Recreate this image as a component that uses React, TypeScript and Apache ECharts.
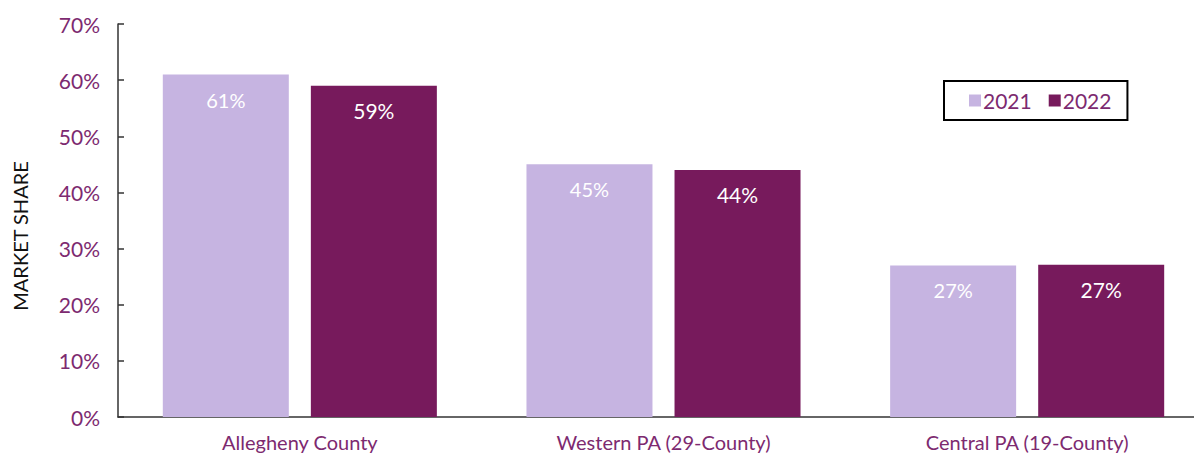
import React, { useEffect, useRef } from "react";
import * as echarts from "echarts";

const categories = ["Allegheny County", "Western PA (29-County)", "Central PA (19-County)"];
const values2021 = [61, 45, 27];
const values2022 = [59, 44, 27.1];
const yTicks = [0, 10, 20, 30, 40, 50, 60, 70];

const LIGHT = "#c6b4e1";
const DARK = "#771a5c";
const TEXT_PURPLE = "#7d2a70";
const FONT = "Lato, 'Open Sans', sans-serif";

export default function App() {
  const ref = useRef<HTMLDivElement>(null);
  useEffect(() => {
    if (!ref.current) return;
    const chart = echarts.init(ref.current, undefined, { renderer: "svg" });
    const label = {
      show: true,
      position: "insideTop",
      distance: 15,
      color: "#ffffff",
      fontFamily: FONT,
      fontSize: 20,
      formatter: (p: any) => Math.round(p.value) + "%",
    };
    chart.setOption({
      animation: false,
      grid: { left: 118, top: 24, bottom: 37, right: 0 },
      legend: {
        left: 944,
        top: 81,
        borderColor: "#000",
        borderWidth: 2,
        padding: [9, 16, 9, 25],
        itemWidth: 12,
        itemHeight: 12,
        itemGap: 17,
        icon: "rect",
        textStyle: { color: TEXT_PURPLE, fontFamily: FONT, fontSize: 21, padding: [0, 0, 0, -3] },
        data: ["2021", "2022"],
      },
      graphic: [
        {
          type: "text",
          x: 10,
          y: 236,
          rotation: Math.PI / 2,
          style: {
            text: "MARKET SHARE",
            fill: "#111",
            font: `20px ${FONT}`,
            textAlign: "center",
            textVerticalAlign: "top",
          },
        },
      ],
      xAxis: {
        type: "category",
        data: categories,
        axisLine: { lineStyle: { color: "#333", width: 1.5 } },
        axisTick: { show: false },
        axisLabel: { color: TEXT_PURPLE, fontFamily: FONT, fontSize: 20, margin: 15 },
      },
      yAxis: {
        type: "value",
        min: 0,
        max: 70,
        interval: 10,
        splitLine: { show: false },
        axisLine: { show: true, lineStyle: { color: "#333", width: 1.5 } },
        axisTick: { show: true, inside: true, length: 6, lineStyle: { color: "#333", width: 1.5 } },
        axisLabel: {
          color: TEXT_PURPLE,
          fontFamily: FONT,
          fontSize: 21,
          margin: 18,
          formatter: (v: number) => (yTicks.includes(v) ? v + "%" : ""),
        },
      },
      series: [
        {
          name: "2021",
          type: "bar",
          data: values2021,
          barWidth: 126,
          barGap: "17.5%",
          itemStyle: { color: LIGHT },
          label,
        },
        {
          name: "2022",
          type: "bar",
          data: values2022,
          barWidth: 126,
          barGap: "17.5%",
          itemStyle: { color: DARK },
          label: { ...label, distance: 14, fontSize: 21 },
        },
      ],
    });
    return () => chart.dispose();
  }, []);
  return (
    <div style={{ position: "absolute", left: 0, top: 0, width: 1194, height: 454, overflow: "hidden" }}>
      <div ref={ref} style={{ width: 1208.5, height: 454 }} />
    </div>
  );
}
